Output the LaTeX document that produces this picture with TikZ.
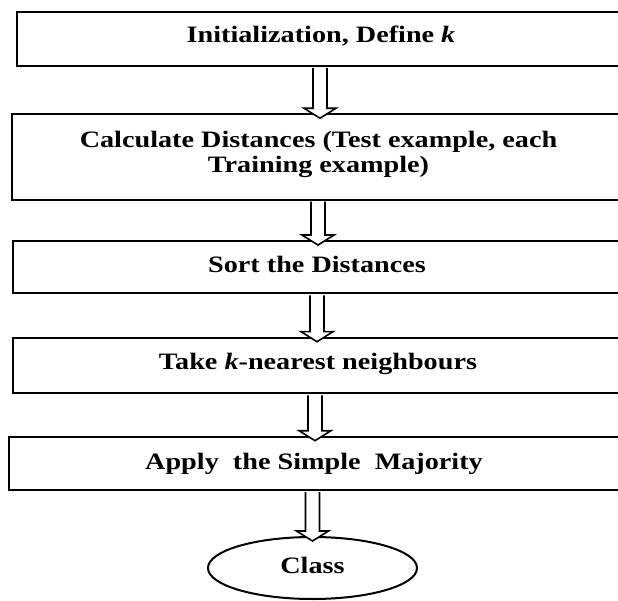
\documentclass[tikz,border=0pt]{standalone}
\usepackage{fontspec}
\newfontfamily\tnr[FakeStretch=1.2]{Liberation Serif}
\usetikzlibrary{calc,shapes.geometric}
\tikzset{
  stepbox/.style={draw=black, line width=2pt, fill=white, rectangle, inner sep=0pt,
    font=\tnr\bfseries\fontsize{23.5}{25}\selectfont, align=center,
    text height=15.6pt, text depth=8pt},
  endshape/.style={draw=black, line width=2pt, fill=white, ellipse, inner sep=0pt,
    font=\tnr\bfseries\fontsize{23.5}{25}\selectfont,
    minimum width=209pt, minimum height=62pt, text height=15.6pt, text depth=4pt},
  fatarrow/.style={draw=black, line width=1.6pt, fill=white, line join=miter}
}
\newcommand\hollowarrow[3]{%
  \path[fatarrow] let \p1=(#1.south), \p2=(#2.north) in
    (#3pt-7pt,\y1-1pt) -- (#3pt-7pt,\y2+5pt) -- (#3pt-16pt,\y2+5pt) -- (#3pt,\y2-5pt)
    -- (#3pt+16pt,\y2+5pt) -- (#3pt+7pt,\y2+5pt) -- (#3pt+7pt,\y1-1pt);%
}
\begin{document}
\begin{tikzpicture}[x=1pt,y=1pt]
\useasboundingbox (0,0) rectangle (618,600);
\clip (0,0) rectangle (618,600);
\fill[white] (0,0) rectangle (618,600);
\node[stepbox, minimum width=608.6pt, minimum height=54.3pt, text depth=9pt] (b1) at (321,561.15)
  {Initialization, Define \textit{k}};
\node[stepbox, minimum width=612.4pt, minimum height=85.5pt, text height=40.6pt, text depth=10.5pt] (b2) at (318.5,443)
  {Calculate Distances (Test example, each\\Training example)};
\node[stepbox, minimum width=608.6pt, minimum height=52.3pt, text depth=5pt] (b3) at (317,332.8)
  {Sort the Distances};
\node[stepbox, minimum width=610.6pt, minimum height=55.6pt, text depth=7.5pt] (b4) at (318,234.5)
  {Take \textit{k}-nearest neighbours};
\node[stepbox, minimum width=609.4pt, minimum height=53.3pt, text depth=4pt] (b5) at (314,136.65)
  {Apply\ \ the Simple\ \ Majority};
\node[endshape] (cl) at (312.5,32) {Class};
\hollowarrow{b1}{b2}{320}
\hollowarrow{b2}{b3}{318}
\hollowarrow{b3}{b4}{317}
\hollowarrow{b4}{b5}{315}
\hollowarrow{b5}{cl}{312.5}
\end{tikzpicture}
\end{document}
